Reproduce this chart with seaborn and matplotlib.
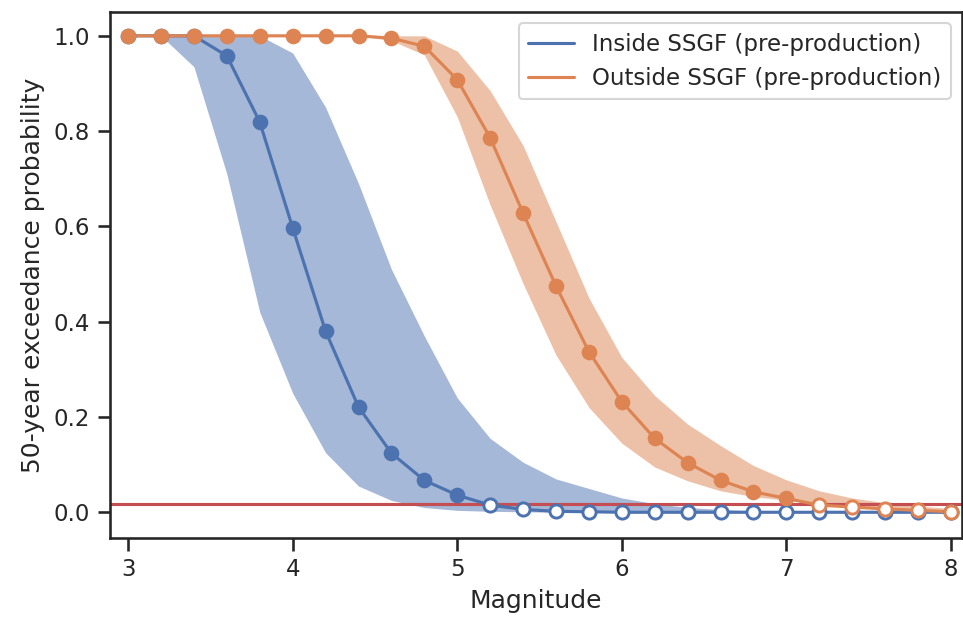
import numpy as np
import pandas as pd
import matplotlib
matplotlib.use("Agg")
import matplotlib.pyplot as plt
import seaborn as sns

# --- data ---
magnitude = [3.0, 3.2, 3.4, 3.6, 3.8, 4.0, 4.2, 4.4, 4.6, 4.8, 5.0, 5.2, 5.4,
             5.6, 5.8, 6.0, 6.2, 6.4, 6.6, 6.8, 7.0, 7.2, 7.4, 7.6, 7.8, 8.0]

inside_p = [1.0, 1.0, 1.0, 0.958, 0.819, 0.597, 0.380, 0.221, 0.124, 0.067,
            0.036, 0.015, 0.006, 0.002, 0.001, 0.0, 0.0, 0.0, 0.0, 0.0,
            0.0, 0.0, 0.0, 0.0, 0.0, 0.0]
inside_lo = [1.0, 1.0, 0.935, 0.71, 0.42, 0.25, 0.125, 0.055, 0.025, 0.01,
             0.004, 0.002, 0.001, 0.0, 0.0, 0.0, 0.0, 0.0, 0.0, 0.0,
             0.0, 0.0, 0.0, 0.0, 0.0, 0.0]
inside_hi = [1.0, 1.0, 1.0, 1.0, 1.0, 0.964, 0.85, 0.69, 0.51, 0.37,
             0.24, 0.155, 0.105, 0.07, 0.05, 0.03, 0.018, 0.01, 0.006, 0.003,
             0.001, 0.0, 0.0, 0.0, 0.0, 0.0]

outside_p = [1.0, 1.0, 1.0, 1.0, 1.0, 1.0, 1.0, 1.0, 0.995, 0.978,
             0.908, 0.786, 0.628, 0.475, 0.337, 0.232, 0.155, 0.104, 0.067, 0.043,
             0.029, 0.015, 0.011, 0.007, 0.004, 0.001]
outside_lo = [1.0, 1.0, 1.0, 1.0, 1.0, 1.0, 1.0, 1.0, 0.99, 0.96,
              0.83, 0.645, 0.48, 0.33, 0.22, 0.145, 0.095, 0.066, 0.045, 0.033,
              0.025, 0.018, 0.012, 0.008, 0.005, 0.002]
outside_hi = [1.0, 1.0, 1.0, 1.0, 1.0, 1.0, 1.0, 1.0, 1.0, 1.0,
              0.968, 0.885, 0.77, 0.61, 0.45, 0.325, 0.245, 0.185, 0.14, 0.098,
              0.068, 0.045, 0.03, 0.02, 0.013, 0.008]

threshold = 0.018

labels = ["Inside SSGF (pre-production)", "Outside SSGF (pre-production)"]

# long table for seaborn
df = pd.concat([
    pd.DataFrame({"Magnitude": magnitude, "p": inside_p, "lo": inside_lo,
                  "hi": inside_hi, "zone": labels[0]}),
    pd.DataFrame({"Magnitude": magnitude, "p": outside_p, "lo": outside_lo,
                  "hi": outside_hi, "zone": labels[1]}),
], ignore_index=True)

sns.set_theme(style="ticks", context="notebook")
plt.rcParams["font.family"] = ["DejaVu Sans"]
pal = sns.color_palette("deep")
colors = {labels[0]: pal[0], labels[1]: pal[1]}

fig = plt.figure(figsize=(6.42, 4.1667), dpi=150)
ax = fig.add_axes([110 / 963, 87 / 625, 852 / 963, 526 / 625])

# uncertainty bands
for zone, sub in df.groupby("zone", sort=False):
    ax.fill_between(sub["Magnitude"], sub["lo"], sub["hi"],
                    color=colors[zone], alpha=0.5, linewidth=0, zorder=1)

ax.axhline(threshold, color=pal[3], linewidth=1.5, zorder=2)

sns.lineplot(data=df, x="Magnitude", y="p", hue="zone", palette=colors,
             linewidth=1.5, ax=ax, zorder=3)

# markers: filled above the threshold, hollow below it
for zone, sub in df.groupby("zone", sort=False):
    above = sub[sub["p"] >= threshold]
    below = sub[sub["p"] < threshold]
    sns.scatterplot(data=above, x="Magnitude", y="p", color=colors[zone],
                    s=45, edgecolor=colors[zone], linewidth=0.8,
                    ax=ax, zorder=4, legend=False)
    sns.scatterplot(data=below, x="Magnitude", y="p", color="white",
                    s=40, edgecolor=colors[zone], linewidth=1.4,
                    ax=ax, zorder=4, legend=False)

ax.set_xlim(2.89, 8.067)
ax.set_ylim(-0.054, 1.05)
ax.set_xticks([3, 4, 5, 6, 7, 8])
ax.set_yticks([0.0, 0.2, 0.4, 0.6, 0.8, 1.0])
ax.set_xlabel("Magnitude")
ax.set_ylabel("50-year exceedance probability")
ax.legend(title=None, loc="upper right", fontsize=11)

fig.savefig("out.png", dpi=150)
